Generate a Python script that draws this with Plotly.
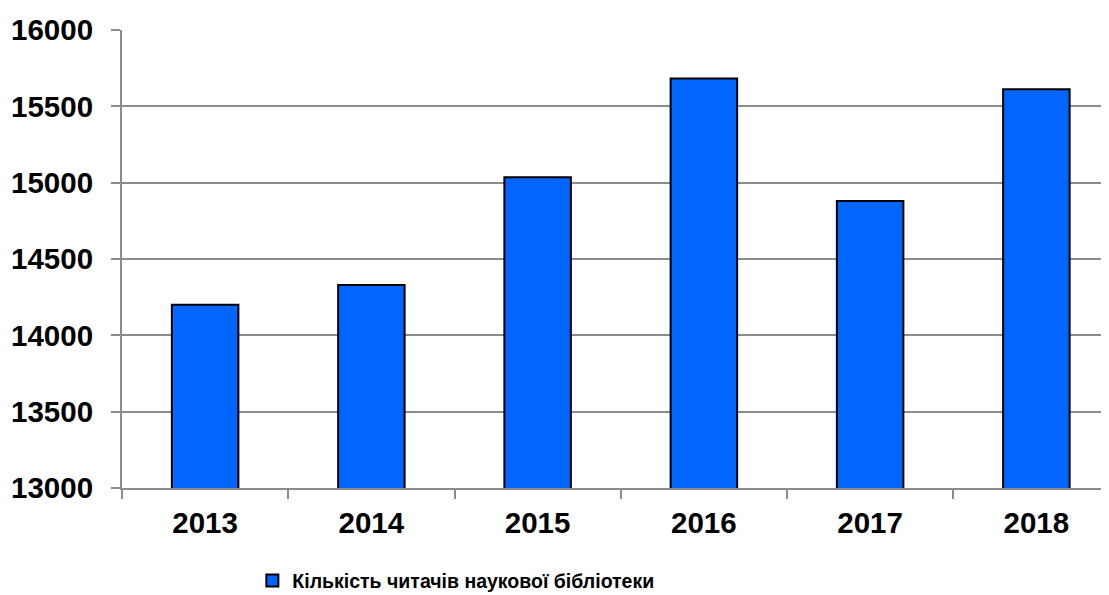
import plotly.graph_objects as go

years = ["2013", "2014", "2015", "2016", "2017", "2018"]
readers = [14200, 14330, 15035, 15682, 14880, 15612]
series_name = "Кількість читачів наукової бібліотеки"
y_ticks = [13000, 13500, 14000, 14500, 15000, 15500, 16000]
y_tick_text = [str(v) for v in y_ticks]

GRAY = "#8c8c8c"
FONT = "Liberation Sans, Arial, sans-serif"

fig = go.Figure()
fig.add_trace(go.Bar(
    x=years, y=readers, name=series_name,
    marker=dict(color="#0066FF", line=dict(color="#000000", width=2)),
    width=0.4,
))

# the page body adds an 8px offset, so the figure is sized/margined to compensate
fig.update_layout(
    width=1109, height=587,
    margin=dict(l=114, r=0, t=22, b=107, autoexpand=False),
    paper_bgcolor="white", plot_bgcolor="white",
    font=dict(family=FONT, color="black"),
    showlegend=True,
    legend=dict(orientation="h", x=0.131, xanchor="left", y=-0.16, yanchor="top",
                font=dict(family=FONT, size=19.5, color="black", weight="bold"),
                bgcolor="rgba(0,0,0,0)"),
)
fig.update_xaxes(
    type="category", range=[-0.5, 5.485], automargin=False,
    showline=True, linecolor=GRAY, linewidth=2,
    ticks="outside", tickson="boundaries", ticklen=9, tickcolor=GRAY, tickwidth=2,
    tickfont=dict(family=FONT, size=29.5, color="black", weight="bold"),
    ticklabelstandoff=8,
    showgrid=False,
)
fig.update_yaxes(
    range=[13000, 16000], tickvals=y_ticks, ticktext=y_tick_text, automargin=False,
    showline=True, linecolor=GRAY, linewidth=2,
    ticks="outside", ticklen=9, tickcolor=GRAY, tickwidth=2,
    showgrid=True, gridcolor=GRAY, gridwidth=2,
    tickfont=dict(family=FONT, size=29.5, color="black", weight="bold"),
    ticklabelstandoff=12, zeroline=False,
)

fig.write_html("out.html")
